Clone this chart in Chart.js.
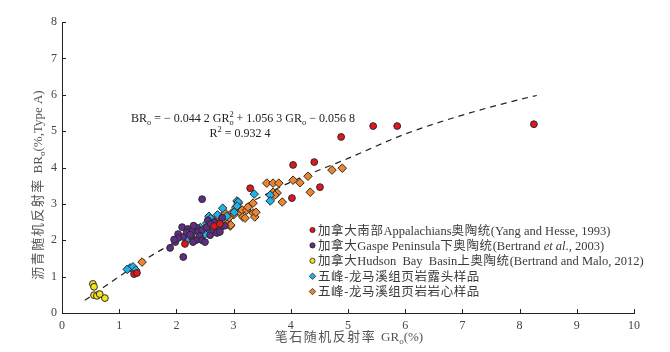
<!DOCTYPE html>
<html>
<head>
<meta charset="UTF-8">
<title>GRo vs BRo</title>
<script src="https://cdn.jsdelivr.net/npm/chart.js"></script>
<style>
  html, body { margin: 0; padding: 0; background: #fff; }
</style>
</head>
<body>
<canvas id="c" width="670" height="352"></canvas>
<script>
// Appalachians (red circles)
const redX = [1.26, 1.31, 2.15, 2.66, 2.76, 3.29, 4.02, 4.04, 4.41, 4.51, 4.88, 5.44, 5.86, 8.25];
const redY = [1.07, 1.10, 1.90, 2.39, 2.45, 3.43, 3.16, 4.07, 4.15, 3.46, 4.84, 5.14, 5.14, 5.19];
// Gaspe Peninsula (purple circles)
const purX = [2.45, 2.10, 2.20, 2.27, 2.36, 2.38, 2.45, 2.03, 2.12, 2.27, 2.41, 2.34, 2.45, 1.98, 2.03, 1.89, 2.12,
              2.59, 2.53, 2.67, 2.73, 2.64, 2.71, 2.76, 2.55, 2.66, 2.29, 2.50, 2.18, 2.30, 2.60, 2.85, 2.80, 2.24, 1.96];
const purY = [3.13, 2.36, 2.31, 2.25, 2.34, 2.23, 2.28, 2.17, 2.09, 2.09, 2.12, 2.00, 2.00, 1.95, 2.06, 1.79, 1.54,
              2.14, 2.36, 2.36, 2.34, 2.28, 2.20, 2.23, 2.55, 2.50, 1.95, 1.95, 2.22, 2.40, 2.45, 2.40, 2.62, 2.15, 2.02];
// Hudson Bay Basin (yellow circles)
const yelX = [0.54, 0.56, 0.56, 0.61, 0.66, 0.75];
const yelY = [0.80, 0.72, 0.49, 0.47, 0.52, 0.41];
// outcrop samples (cyan diamonds)
const cyaX = [1.19, 1.24, 1.29, 1.14, 2.20, 2.19, 2.47, 2.53, 2.50, 2.55, 2.57, 2.60, 2.67, 2.81, 2.88, 3.06, 3.08,
              3.06, 3.01, 3.36, 3.64, 3.64, 2.42, 2.72];
const cyaY = [1.24, 1.27, 1.18, 1.20, 2.06, 2.03, 2.23, 2.47, 2.17, 2.34, 2.66, 2.60, 2.50, 2.88, 2.66, 3.08, 3.05,
              2.94, 2.77, 3.27, 3.24, 3.08, 2.35, 2.70];
// core samples (orange diamonds)
const oraX = [1.40, 2.73, 2.85, 2.97, 2.88, 2.94, 2.80, 2.81, 2.95, 3.04, 3.08, 3.11, 3.15, 3.16, 3.20, 3.23, 3.25,
              3.34, 3.34, 3.37, 3.39, 3.58, 3.69, 3.79, 3.69, 3.76, 3.72, 3.85, 4.04, 4.16, 4.30, 4.34, 4.72, 4.90,
              3.00, 2.92];
const oraY = [1.40, 2.64, 2.75, 2.75, 2.55, 2.39, 2.55, 2.39, 2.42, 2.91, 3.02, 2.77, 2.83, 2.64, 2.61, 2.83, 2.91,
              3.02, 2.75, 2.64, 2.77, 3.57, 3.57, 3.57, 3.32, 3.30, 3.24, 3.05, 3.65, 3.58, 3.76, 3.32, 3.93, 3.98,
              2.70, 2.62];
// fitted curve
const fitX = [0.4, 1.4, 2, 3, 4, 5, 6, 7, 8, 8.3];
const fitY = [0.35, 1.42, 1.97, 2.8, 3.6, 4.25, 4.92, 5.44, 5.87, 5.98];

const xTicks = [0, 1, 2, 3, 4, 5, 6, 7, 8, 9, 10];
const yTicks = [0, 1, 2, 3, 4, 5, 6, 7, 8];

const pts = (xs, ys) => xs.map((x, i) => ({ x: x, y: ys[i] }));

const SERIF = "'Liberation Serif', 'Noto Sans CJK SC'";
const fnt = (sz, it) => (it ? 'italic ' : '') + sz + 'px ' + SERIF;

// segments: {t, k}  k: undefined | 'sub' | 'sup' | 'it' | 'ss' (t = [sub, sup]) | 'cjk'
function segWidth(ctx, s, size, gap) {
  if (s.k === 'sub' || s.k === 'sup') { ctx.font = fnt(size * 0.7); return ctx.measureText(s.t).width; }
  if (s.k === 'ss') { ctx.font = fnt(size * 0.7); return Math.max(ctx.measureText(s.t[0]).width, ctx.measureText(s.t[1]).width); }
  ctx.font = fnt(size, s.k === 'it');
  if (s.k === 'cjk') return [...s.t].reduce((w, ch) => w + ctx.measureText(ch).width + gap, 0);
  return ctx.measureText(s.t).width;
}
function drawRich(ctx, segs, x, y, size, align, gap) {
  gap = gap || 0;
  let w = segs.reduce((a, s) => a + segWidth(ctx, s, size, gap), 0);
  let cx = align === 'center' ? x - w / 2 : x;
  ctx.textAlign = 'left';
  ctx.textBaseline = 'alphabetic';
  segs.forEach(s => {
    const sw = segWidth(ctx, s, size, gap);
    if (s.k === 'sub') { ctx.font = fnt(size * 0.7); ctx.fillText(s.t, cx, y + size * 0.25); }
    else if (s.k === 'sup') { ctx.font = fnt(size * 0.7); ctx.fillText(s.t, cx, y - size * 0.4); }
    else if (s.k === 'ss') { ctx.font = fnt(size * 0.7); ctx.fillText(s.t[0], cx, y + size * 0.25); ctx.fillText(s.t[1], cx, y - size * 0.4); }
    else if (s.k === 'cjk') {
      ctx.font = fnt(size);
      let px = cx;
      [...s.t].forEach(ch => { ctx.fillText(ch, px, y); px += ctx.measureText(ch).width + gap; });
    } else { ctx.font = fnt(size, s.k === 'it'); ctx.fillText(s.t, cx, y); }
    cx += sw;
  });
}

const legendRows = [
  [{ t: '加拿大南部', k: 'cjk' }, { t: 'Appalachians' }, { t: '奥陶统', k: 'cjk' }, { t: '(Yang and Hesse, 1993)' }],
  [{ t: '加拿大', k: 'cjk' }, { t: 'Gaspe Peninsula' }, { t: '下奥陶统', k: 'cjk' }, { t: '(Bertrand ' }, { t: 'et al', k: 'it' }, { t: '., 2003)' }],
  [{ t: '加拿大', k: 'cjk' }, { t: 'Hudson  Bay  Basin' }, { t: '上奥陶统', k: 'cjk' }, { t: '(Bertrand and Malo, 2012)' }],
  [{ t: '五峰-龙马溪组页岩露头样品', k: 'cjk' }],
  [{ t: '五峰-龙马溪组页岩岩心样品', k: 'cjk' }]
];

const overlay = {
  id: 'overlay',
  afterDraw(chart) {
    const ctx = chart.ctx, xs = chart.scales.x, ys = chart.scales.y, a = chart.chartArea;
    ctx.save();
    // inward tick marks
    ctx.strokeStyle = '#222';
    ctx.lineWidth = 1;
    ctx.beginPath();
    xs.ticks.forEach(t => {
      const p = Math.round(xs.getPixelForValue(t.value)) + 0.5;
      ctx.moveTo(p, a.bottom); ctx.lineTo(p, a.bottom - 4);
    });
    ys.ticks.forEach(t => {
      const p = Math.round(ys.getPixelForValue(t.value)) + 0.5;
      ctx.moveTo(a.left, p); ctx.lineTo(a.left + 4, p);
    });
    ctx.stroke();

    // equation
    ctx.fillStyle = '#222';
    drawRich(ctx, [{ t: 'BR' }, { t: 'o', k: 'sub' }, { t: ' = − 0.044 2 GR' }, { t: ['o', '2'], k: 'ss' },
      { t: ' + 1.056 3 GR' }, { t: 'o', k: 'sub' }, { t: ' − 0.056 8' }], 243, 122, 12, 'center');
    drawRich(ctx, [{ t: 'R' }, { t: '2', k: 'sup' }, { t: ' = 0.932 4' }], 240, 137, 12, 'center');

    // axis titles
    ctx.fillStyle = '#555';
    drawRich(ctx, [{ t: '笔石随机反射率 ', k: 'cjk' }, { t: 'GR' }, { t: 'o', k: 'sub' }, { t: '(%)' }], 349, 341, 13, 'center', 1.5);
    ctx.save();
    ctx.translate(42, 185);
    ctx.rotate(-Math.PI / 2);
    drawRich(ctx, [{ t: '沥青随机反射率 ', k: 'cjk' }, { t: 'BR' }, { t: 'o', k: 'sub' }, { t: '(%,Type A)' }], 0, 0, 13, 'center', 1.5);
    ctx.restore();

    // legend
    const sets = chart.data.datasets.slice(0, 5);
    sets.forEach((ds, i) => {
      const y = 230 + i * 15.4;
      ctx.fillStyle = ds.backgroundColor;
      ctx.strokeStyle = '#222';
      ctx.lineWidth = 0.8;
      ctx.beginPath();
      if (ds.pointStyle === 'rectRot') {
        ctx.moveTo(312.5, y - 3.2); ctx.lineTo(315.7, y); ctx.lineTo(312.5, y + 3.2); ctx.lineTo(309.3, y); ctx.closePath();
      } else {
        ctx.arc(312.5, y, 2.6, 0, Math.PI * 2);
      }
      ctx.fill(); ctx.stroke();
      ctx.fillStyle = '#3a3a3a';
      drawRich(ctx, legendRows[i], 318, y + 4.5, 12.5, 'left', 0.6);
    });
    ctx.restore();
  }
};

const pointDs = (label, xs, ys, color, style, r) => ({
  type: 'scatter', label: label, data: pts(xs, ys),
  backgroundColor: color, borderColor: '#2a2a2a', borderWidth: 1,
  pointStyle: style, pointRadius: r, pointHoverRadius: r
});

new Chart(document.getElementById('c'), {
  type: 'scatter',
  data: {
    datasets: [
      pointDs('Appalachians', redX, redY, '#e3161d', 'circle', 3.4),
      pointDs('Gaspe Peninsula', purX, purY, '#5f2c86', 'circle', 3.4),
      pointDs('Hudson Bay Basin', yelX, yelY, '#f3e41c', 'circle', 3.4),
      pointDs('outcrop', cyaX, cyaY, '#1db3e8', 'rectRot', 4.3),
      pointDs('core', oraX, oraY, '#f0842a', 'rectRot', 4.3),
      {
        type: 'line', label: 'fit', data: pts(fitX, fitY),
        borderColor: '#222', borderWidth: 1.2, borderDash: [6, 5],
        pointRadius: 0, fill: false, cubicInterpolationMode: 'monotone'
      }
    ]
  },
  options: {
    responsive: false,
    animation: false,
    layout: { padding: { left: 0, top: 22, right: 36, bottom: 0 } },
    plugins: { legend: { display: false }, tooltip: { enabled: false } },
    scales: {
      x: {
        type: 'linear', min: 0, max: 10,
        afterBuildTicks: s => { s.ticks = xTicks.map(v => ({ value: v })); },
        afterFit: s => { s.height = 39; },
        grid: { display: false, drawTicks: false },
        border: { display: true, color: '#222', width: 1 },
        ticks: { padding: 6, color: '#444', font: { family: SERIF, size: 12 } }
      },
      y: {
        type: 'linear', min: 0, max: 8,
        afterBuildTicks: s => { s.ticks = yTicks.map(v => ({ value: v })); },
        afterFit: s => { s.width = 62; },
        grid: { display: false, drawTicks: false },
        border: { display: true, color: '#222', width: 1 },
        ticks: { padding: 5, color: '#444', font: { family: SERIF, size: 12 } }
      }
    }
  },
  plugins: [overlay]
});
</script>
</body>
</html>
